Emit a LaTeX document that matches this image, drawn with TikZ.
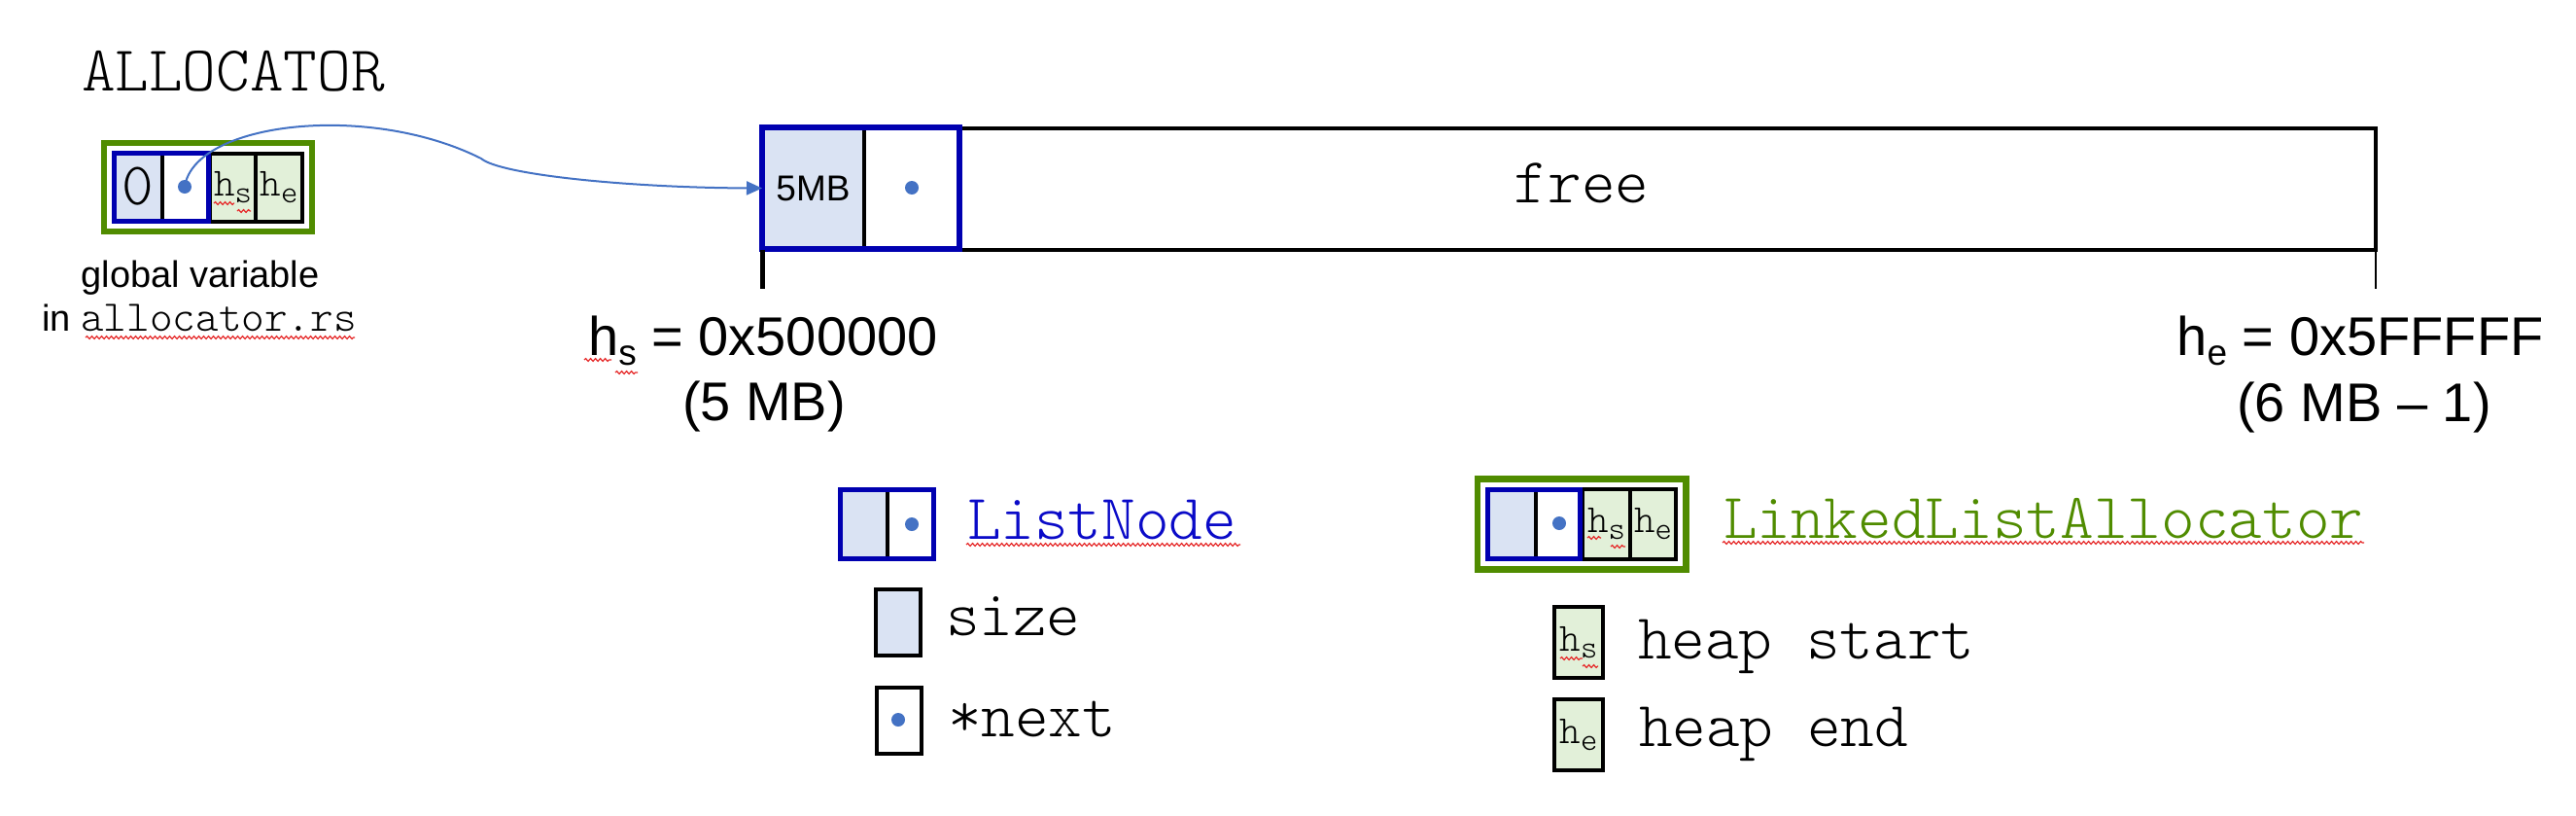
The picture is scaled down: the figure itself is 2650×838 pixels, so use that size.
\documentclass[tikz,border=0pt]{standalone}
\usepackage{fontspec}
\setmainfont{Liberation Sans}
\newfontfamily\lmlightfam{Latin Modern Mono Light}
\usetikzlibrary{arrows.meta,decorations.pathmorphing,fit}
\definecolor{nodeblue}{RGB}{0,0,176}
\definecolor{listblue}{RGB}{10,10,200}
\definecolor{sizefill}{RGB}{218,227,243}
\definecolor{allocgreen}{RGB}{80,140,0}
\definecolor{heapfill}{RGB}{226,240,217}
\definecolor{ptrdot}{RGB}{68,114,196}
\definecolor{squigred}{RGB}{230,40,40}
\newcommand{\monosz}[1]{\fontsize{#1}{#1}\selectfont\lmlightfam}
\newcommand{\sanssz}[1]{\fontsize{#1}{#1}\selectfont\rmfamily}
\newcommand{\hcell}[1]{{\monosz{41}h\raisebox{-7pt}{\monosz{33}#1}}}
\newcommand{\hlabel}[1]{{\sanssz{56}h\raisebox{-10pt}{\sanssz{37}#1}}}
\tikzset{
  cellbox/.style={rectangle, inner sep=0pt, outer sep=0pt},
  sizecell/.style={cellbox, fill=sizefill},
  ptrcell/.style={cellbox, fill=white},
  heapcell/.style={cellbox, fill=heapfill, draw=black, line width=3.5pt},
  legendcell/.style={cellbox, draw=black, line width=4pt},
  ptrdotnode/.style={circle, fill=ptrdot, inner sep=0pt, minimum size=14pt},
  blueframe/.style={draw=nodeblue, line width=5pt},
  divider/.style={draw=black, line width=4pt},
  greenframe/.style={draw=allocgreen, line width=6.5pt, rectangle, inner sep=10pt},
  squig/.style={draw=squigred, line width=1.2pt, decorate, decoration={snake, amplitude=1.4pt, segment length=5pt}},
  ptrarrow/.style={draw=ptrdot, line width=2pt, -{Triangle[length=16pt,width=14pt]}},
  txt/.style={inner sep=0pt, outer sep=0pt},
  monolbl/.style={txt, anchor=base west, font={\monosz{66}}},
  sanslbl/.style={txt, anchor=base, font={\sanssz{56}}},
}
\begin{document}
\begin{tikzpicture}[x=1pt,y=-1pt]
\useasboundingbox (0,0) rectangle (2650,838);
\fill[white] (0,0) rectangle (2650,838);

% ---- ALLOCATOR global variable ----
\node[monolbl] (alloclbl) at (84,93) {ALLOCATOR};
\node[sizecell, minimum width=50pt, minimum height=70pt] (g0) at (142,192) {\monosz{62}0};
\node[ptrcell, minimum width=47pt, minimum height=70pt] (g1) at (190.5,192) {};
\node[heapcell, minimum width=47pt, minimum height=70pt] (ghs) at (239.5,193) {\hcell{s}};
\node[heapcell, minimum width=48pt, minimum height=70pt] (ghe) at (287,193) {\hcell{e}};
\draw[divider] (g0.north east) -- (g0.south east);
\draw[blueframe] (g0.north west) rectangle (g1.south east);
\node[ptrdotnode] (gdot) at (190,192) {};
\node[greenframe, fit=(g0)(ghe)] (gvar) {};
\node[txt, anchor=base, font={\sanssz{38}}] (gv1) at (206,295) {global variable};
\node[txt, anchor=base, font={\sanssz{38}}] (gv2) at (205,340) {in {\monosz{45}allocator.rs}};

% ---- heap ----
\node[cellbox, draw=black, line width=4pt, minimum width=1660pt, minimum height=125pt] (heap) at (1614,194.5) {};
\node[txt, anchor=base, font={\monosz{66}}] (freelbl) at (1627,208) {free};
\node[sizecell, minimum width=105pt, minimum height=125pt] (mb0) at (836.5,193.5) {\sanssz{37}5MB};
\node[ptrcell, minimum width=98pt, minimum height=125pt] (mb1) at (938,193.5) {};
\draw[divider] (mb0.north east) -- (mb0.south east);
\draw[blueframe, line width=5.5pt] (mb0.north west) rectangle (mb1.south east);
\node[ptrdotnode] (mbdot) at (938,193) {};
\coordinate (tickL) at (784,297);
\coordinate (tickR) at (2444,297);
\draw[black, line width=5pt] (heap.south west) -- (tickL);
\draw[black, line width=2.5pt] (heap.south east) -- (tickR);

\node[sanslbl] (hslbl) at (785,365) {\hlabel{s} = 0x500000};
\node[sanslbl] (hsmb) at (786,432) {(5 MB)};
\node[sanslbl] (helbl) at (2428,365) {\hlabel{e} = 0x5FFFFF};
\node[sanslbl] (hemb) at (2432,433) {(6 MB – 1)};

% ---- legend: ListNode ----
\node[sizecell, minimum width=48.5pt, minimum height=71pt] (ln0) at (888.75,539) {};
\node[ptrcell, minimum width=47.5pt, minimum height=71pt] (ln1) at (936.75,539) {};
\draw[divider] (ln0.north east) -- (ln0.south east);
\draw[blueframe] (ln0.north west) rectangle (ln1.south east);
\node[ptrdotnode] (lndot) at (938,539) {};
\node[monolbl, text=listblue] (lnlbl) at (995,554) {ListNode};
\node[legendcell, fill=sizefill, minimum width=46pt, minimum height=68pt] (szc) at (923.5,639.5) {};
\node[monolbl] (szlbl) at (973,653) {size};
\node[legendcell, fill=white, minimum width=46pt, minimum height=68pt] (nxc) at (924.5,740.5) {};
\node[ptrdotnode] (nxdot) at (924,740) {};
\node[monolbl] (nxlbl) at (975,757) {*next};

% ---- legend: LinkedListAllocator ----
\node[sizecell, minimum width=49.5pt, minimum height=71pt] (la0) at (1555.25,539) {};
\node[ptrcell, minimum width=45.5pt, minimum height=71pt] (la1) at (1602.75,539) {};
\node[heapcell, minimum width=49pt, minimum height=72pt] (lahs) at (1652.5,539) {\hcell{s}};
\node[heapcell, minimum width=47pt, minimum height=72pt] (lahe) at (1700.5,539) {\hcell{e}};
\draw[divider] (la0.north east) -- (la0.south east);
\draw[blueframe] (la0.north west) rectangle (la1.south east);
\node[ptrdotnode] (ladot) at (1604,538) {};
\node[greenframe, fit=(la0)(lahe), inner sep=10.5pt] (lagrp) {};
\node[monolbl, text=allocgreen] (lalbl) at (1773,553) {LinkedListAllocator};
\node[heapcell, line width=4pt, minimum width=50pt, minimum height=73pt] (lhs) at (1624,660.5) {\hcell{s}};
\node[heapcell, line width=4pt, minimum width=50pt, minimum height=73pt] (lhe) at (1624,755.5) {\hcell{e}};
\node[monolbl] (hslegend) at (1685,677) {heap start};
\node[monolbl] (helegend) at (1686,767) {heap end};

% ---- spell-check squiggles ----
\draw[squig] (88,347) -- (365,347);
\draw[squig] (994,560) -- (1276,560);
\draw[squig] (1772,558) -- (2432,558);
\draw[squig] (220,209) -- (241,209);
\draw[squig] (244,217) -- (258,217);
\draw[squig] (1633,553) -- (1647,553);
\draw[squig] (1657,562) -- (1672,562);
\draw[squig] (1605,677) -- (1628,677);
\draw[squig] (1628,685) -- (1644,685);
\draw[squig] (601,370) -- (629,370);
\draw[squig] (633,383) -- (656,383);

% ---- pointer arrow ----
\draw[ptrarrow] (gdot.center) .. controls (200,125) and (380,105) .. (495,163)
  .. controls (515,180) and (650,193) .. (mb0.west);
\end{tikzpicture}
\end{document}
